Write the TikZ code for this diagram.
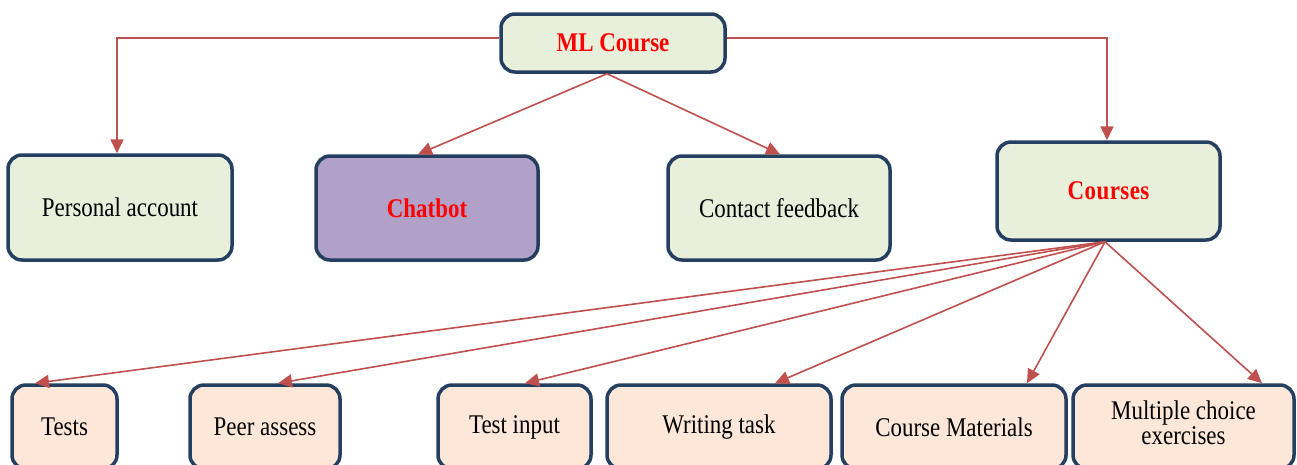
\documentclass[tikz,border=0pt]{standalone}
\usepackage{fontspec}
\setmainfont{Liberation Serif}
\usepackage{graphicx}
\usetikzlibrary{arrows.meta}
\definecolor{edgeblue}{HTML}{243F60}
\definecolor{linkred}{HTML}{C0504D}
\definecolor{greenfill}{HTML}{E8EFDB}
\definecolor{purplefill}{HTML}{B1A0C7}
\definecolor{peachfill}{HTML}{FCE7D8}
\definecolor{txtred}{HTML}{FF0000}
\newcommand{\sqz}[1]{\scalebox{0.85}[1]{#1}}
\tikzset{
  box/.style={draw=edgeblue, line width=3.5pt, rounded corners=14pt, inner sep=0pt,
    font=\fontsize{27}{26}\selectfont, align=center},
  greenbox/.style={box, fill=greenfill},
  purplebox/.style={box, fill=purplefill},
  peachbox/.style={box, fill=peachfill},
  redtext/.style={text=txtred, font=\fontsize{27}{26}\selectfont\bfseries},
  link/.style={draw=linkred, line width=1.6pt, -{Triangle[length=14pt,width=13pt]}}
}
\begin{document}
\begin{tikzpicture}[x=1pt,y=-1pt]
\useasboundingbox (0,0) rectangle (1297,464);
\clip (0,0) rectangle (1297,464);
% top
\node[greenbox, redtext, minimum width=224pt, minimum height=58pt] (ml) at (613,43) {\sqz{ML Course}};
% middle row
\node[greenbox, minimum width=224pt, minimum height=105pt] (pa) at (120,207.5) {\sqz{Personal account}};
\node[purplebox, redtext, minimum width=222pt, minimum height=104pt] (cb) at (427,208) {\sqz{Chatbot}};
\node[greenbox, minimum width=222pt, minimum height=104pt] (cf) at (779,208) {\sqz{Contact feedback}};
\node[greenbox, redtext, minimum width=223pt, minimum height=98pt] (co) at (1108.5,191) {\sqz{\addfontfeature{LetterSpace=2}Courses}};
% bottom row
\node[peachbox, minimum width=105pt, minimum height=84pt] (te) at (64.5,427) {\sqz{Tests}};
\node[peachbox, minimum width=150pt, minimum height=84pt] (pe) at (265,427) {\sqz{Peer assess}};
\node[peachbox, minimum width=153pt, minimum height=84pt] (ti) at (514.5,427) {\sqz{Test input}};
\node[peachbox, minimum width=224pt, minimum height=84pt] (wt) at (719,427) {\sqz{Writing task}};
\node[peachbox, minimum width=224pt, minimum height=84pt] (cm) at (954,427) {\sqz{Course Materials}};
\node[peachbox, minimum width=221pt, minimum height=84pt] (mc) at (1183.5,427) {\sqz{\begin{tabular}{@{}c@{}}Multiple choice\\[-1pt]exercises\end{tabular}}};
% connectors from ML Course
\draw[link] ([yshift=5pt]ml.west) -| ([xshift=-3pt]pa.north);
\draw[link] ([yshift=5pt]ml.east) -| ([xshift=-1.5pt]co.north);
\draw[link] ([xshift=-6pt]ml.south) -- ([xshift=-9pt]cb.north);
\draw[link] ([xshift=-6pt]ml.south) -- ([xshift=1pt]cf.north);
% connectors from Courses
\draw[link] ([xshift=-3.5pt]co.south) -- ([xshift=-29.5pt]te.north);
\draw[link] ([xshift=-3.5pt]co.south) -- ([xshift=13pt]pe.north);
\draw[link] ([xshift=-3.5pt]co.south) -- ([xshift=10.5pt]ti.north);
\draw[link] ([xshift=-3.5pt]co.south) -- ([xshift=56pt]wt.north);
\draw[link] ([xshift=-3.5pt]co.south) -- ([xshift=73pt]cm.north);
\draw[link] ([xshift=-3.5pt]co.south) -- ([xshift=78.5pt]mc.north);
\end{tikzpicture}
\end{document}
